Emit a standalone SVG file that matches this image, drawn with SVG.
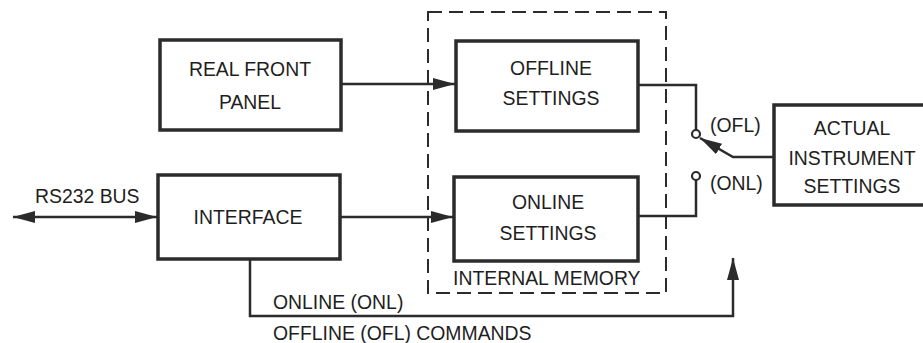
<svg xmlns="http://www.w3.org/2000/svg" width="923" height="343" viewBox="0 0 923 343">
<style>
.box{fill:#fff;stroke:#2b2b2b;stroke-width:3.5}
.ln{fill:none;stroke:#2b2b2b;stroke-width:2.5}
.t{font-family:"Liberation Sans",Arial,sans-serif;font-size:19.4px;fill:#1e1e1e}
.c{text-anchor:middle}
.dash{fill:none;stroke:#2b2b2b;stroke-width:2;stroke-dasharray:14 7}
</style>
<defs>
<marker id="ah" markerUnits="userSpaceOnUse" markerWidth="24" markerHeight="14" refX="22" refY="6" orient="auto-start-reverse">
<path d="M0,0 L22,6 L0,12 Z" fill="#2b2b2b"/>
</marker>
</defs>
<rect x="0" y="0" width="923" height="343" fill="#fff"/>
<g id="memory">
<rect class="dash" x="428" y="12" width="238" height="281"/>
<text class="t" x="453" y="285">INTERNAL MEMORY</text>
</g>
<g id="connectors">
<path class="ln" d="M341,84 H455" marker-end="url(#ah)"/>
<path class="ln" d="M340,217 H453" marker-end="url(#ah)"/>
<path class="ln" d="M13,217 H157" marker-start="url(#ah)" marker-end="url(#ah)"/>
<path class="ln" d="M250,259 V316 H733 V258" marker-end="url(#ah)"/>
<path class="ln" d="M638,85 H696 V130"/>
<path class="ln" d="M638,216 H696 V180"/>
<path class="ln" d="M773,157 H733 L700,138" marker-end="url(#ah)"/>
<circle cx="696" cy="134" r="4" fill="#fff" stroke="#2b2b2b" stroke-width="2.2"/>
<circle cx="696" cy="176" r="4" fill="#fff" stroke="#2b2b2b" stroke-width="2.2"/>
<text class="t" x="710" y="132">(OFL)</text>
<text class="t" x="710" y="190">(ONL)</text>
<text class="t" x="35" y="203">RS232 BUS</text>
<text class="t" x="273" y="309">ONLINE (ONL)</text>
<text class="t" x="273" y="340">OFFLINE (OFL) COMMANDS</text>
</g>
<g id="front-panel">
<rect class="box" x="160" y="40" width="181" height="90"/>
<text class="t c" x="250" y="76">REAL FRONT</text>
<text class="t c" x="250" y="109">PANEL</text>
</g>
<g id="interface">
<rect class="box" x="158" y="175" width="182" height="84"/>
<text class="t c" x="248" y="224">INTERFACE</text>
</g>
<g id="offline-settings">
<rect class="box" x="456" y="41" width="182" height="90"/>
<text class="t c" x="551" y="75">OFFLINE</text>
<text class="t c" x="551" y="105">SETTINGS</text>
</g>
<g id="online-settings">
<rect class="box" x="454" y="177" width="184" height="84"/>
<text class="t c" x="548" y="209">ONLINE</text>
<text class="t c" x="548" y="240">SETTINGS</text>
</g>
<g id="actual-settings">
<rect class="box" x="774" y="105" width="170" height="100"/>
<text class="t c" x="852" y="135">ACTUAL</text>
<text class="t c" x="852" y="165">INSTRUMENT</text>
<text class="t c" x="852" y="193">SETTINGS</text>
</g>
</svg>
